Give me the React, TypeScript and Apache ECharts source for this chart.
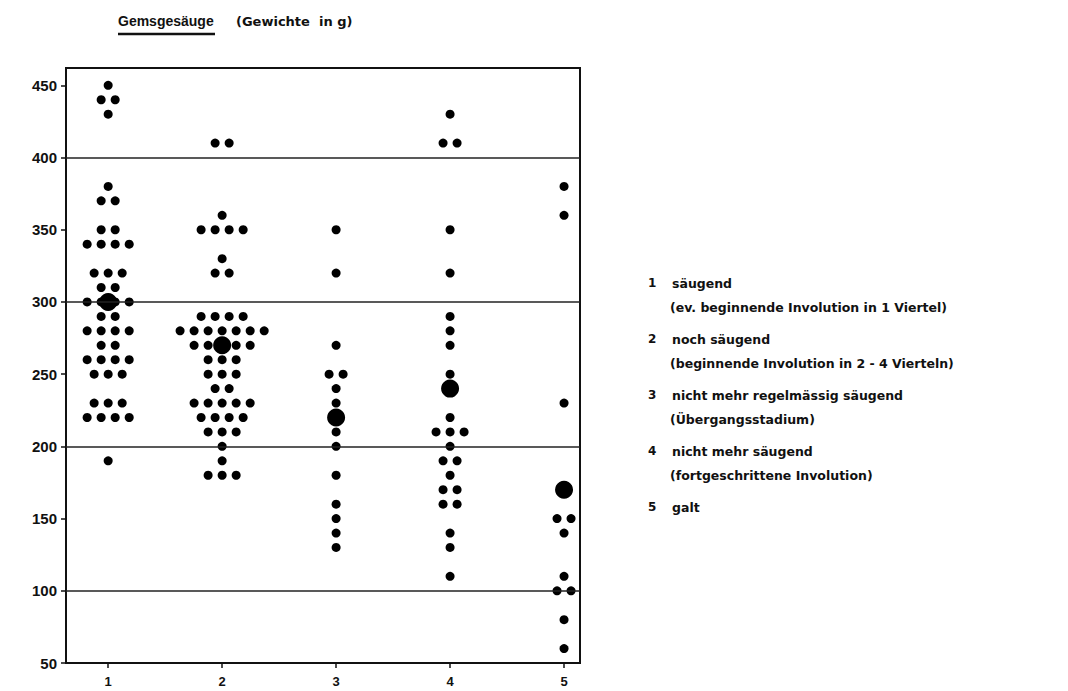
import React, { useEffect, useRef } from "react";
import * as echarts from "echarts";

// Weights in g per group (one entry per animal)
const categories = ["1", "2", "3", "4", "5"];
const group1 = [450, 440, 440, 430, 380, 370, 370, 350, 350, 340, 340, 340, 340, 320, 320, 320, 310, 310, 300, 300, 300, 300, 290, 290, 280, 280, 280, 280, 270, 270, 260, 260, 260, 260, 250, 250, 250, 230, 230, 230, 220, 220, 220, 220, 190];
const group2 = [410, 410, 360, 350, 350, 350, 350, 330, 320, 320, 290, 290, 290, 290, 280, 280, 280, 280, 280, 280, 280, 270, 270, 270, 270, 270, 260, 260, 260, 250, 250, 250, 240, 240, 230, 230, 230, 230, 230, 220, 220, 220, 220, 210, 210, 210, 200, 190, 180, 180, 180];
const group3 = [350, 320, 270, 250, 250, 240, 230, 210, 200, 180, 160, 150, 140, 130];
const group4 = [430, 410, 410, 350, 320, 290, 280, 270, 250, 220, 210, 210, 210, 200, 190, 190, 180, 170, 170, 160, 160, 140, 130, 110];
const group5 = [380, 360, 230, 150, 150, 140, 110, 100, 100, 80, 60];
const means = [300, 270, 220, 240, 170];
const gridValues = [100, 200, 300, 400];
const yTicks = [50, 100, 150, 200, 250, 300, 350, 400, 450];

const legendItems = [
  { num: "1", title: "säugend", sub: "(ev. beginnende Involution in 1 Viertel)" },
  { num: "2", title: "noch säugend", sub: "(beginnende Involution in 2 - 4 Vierteln)" },
  { num: "3", title: "nicht mehr regelmässig säugend", sub: "(Übergangsstadium)" },
  { num: "4", title: "nicht mehr säugend", sub: "(fortgeschrittene Involution)" },
  { num: "5", title: "galt", sub: "" },
];

const groups = [group1, group2, group3, group4, group5];
const STEP = 0.123; // horizontal spacing between dots of equal value (x units)

function swarm(): number[][] {
  const pts: number[][] = [];
  groups.forEach((g, gi) => {
    const counts: Record<number, number> = {};
    g.forEach((v) => (counts[v] = (counts[v] || 0) + 1));
    Object.keys(counts).forEach((k) => {
      const v = Number(k);
      const n = counts[v];
      for (let i = 0; i < n; i++) {
        pts.push([gi + 1 + (i - (n - 1) / 2) * STEP, v]);
      }
    });
  });
  return pts;
}

const FONT = "Liberation Sans";
const WIDE = "DejaVu Sans";

export default function App() {
  const ref = useRef<HTMLDivElement>(null);
  useEffect(() => {
    if (!ref.current) return;
    const chart = echarts.init(ref.current, null, { renderer: "svg" });
    const graphics: any[] = [
      { type: "text", left: 118, top: 14, style: { text: "Gemsgesäuge", font: `bold 14px "${FONT}"`, fill: "#111" } },
      { type: "line", shape: { x1: 118, y1: 34, x2: 215, y2: 34 }, style: { stroke: "#111", lineWidth: 2.5 } },
      { type: "text", left: 236, top: 15, style: { text: "(Gewichte  in g)", font: `bold 13px "${WIDE}"`, fill: "#111" } },
    ];
    const startY = 277;
    const gap = [0, 56, 112, 168, 224];
    legendItems.forEach((it, i) => {
      const y = startY + gap[i];
      graphics.push({ type: "text", left: 648, top: y, style: { text: it.num, font: `bold 12px "${WIDE}"`, fill: "#111" } });
      graphics.push({ type: "text", left: 672, top: y, style: { text: it.title, font: `bold 12.5px "${WIDE}"`, fill: "#111" } });
      if (it.sub) {
        graphics.push({ type: "text", left: 670, top: y + 24, style: { text: it.sub, font: `bold 12.5px "${WIDE}"`, fill: "#111" } });
      }
    });

    chart.setOption({
      animation: false,
      backgroundColor: "#fff",
      grid: { left: 66, right: 488, top: 68, bottom: 28, show: true, borderColor: "#111", borderWidth: 2, backgroundColor: "transparent" },
      xAxis: {
        type: "value",
        min: 0.63,
        max: 5.14,
        axisLine: { show: true, lineStyle: { color: "#111", width: 2 } },
        axisTick: { show: true, length: 5, customValues: [1, 2, 3, 4, 5], lineStyle: { color: "#111", width: 1.5 } },
        axisLabel: {
          customValues: [1, 2, 3, 4, 5],
          formatter: (v: number) => categories[Math.round(v) - 1] ?? "",
          color: "#111",
          fontFamily: FONT,
          fontWeight: "bold",
          fontSize: 13,
          margin: 12,
        },
        splitLine: { show: false },
      },
      yAxis: {
        type: "value",
        min: 50,
        max: 462,
        axisLine: { show: true, lineStyle: { color: "#111", width: 2 } },
        axisTick: { show: true, length: 5, customValues: yTicks, lineStyle: { color: "#111", width: 1.5 } },
        axisLabel: {
          customValues: yTicks,
          color: "#111",
          fontFamily: FONT,
          fontWeight: "bold",
          fontSize: 15,
          margin: 9,
        },
        splitLine: { show: false },
      },
      series: [
        {
          type: "scatter",
          data: swarm(),
          symbol: "circle",
          symbolSize: 9,
          itemStyle: { color: "#000", opacity: 1 },
          markLine: {
            silent: true,
            symbol: "none",
            label: { show: false },
            lineStyle: { color: "#222", width: 1.5, type: "solid", opacity: 1 },
            data: gridValues.map((v) => ({ yAxis: v })),
          },
          z: 3,
        },
        {
          type: "scatter",
          data: means.map((m, i) => [i + 1, m]),
          symbol: "circle",
          symbolSize: 18,
          itemStyle: { color: "#000", opacity: 1 },
          z: 4,
        },
      ],
      graphic: graphics,
    });
    return () => chart.dispose();
  }, []);
  return <div ref={ref} style={{ position: "fixed", left: 0, top: 0, width: 1068, height: 691 }} />;
}
